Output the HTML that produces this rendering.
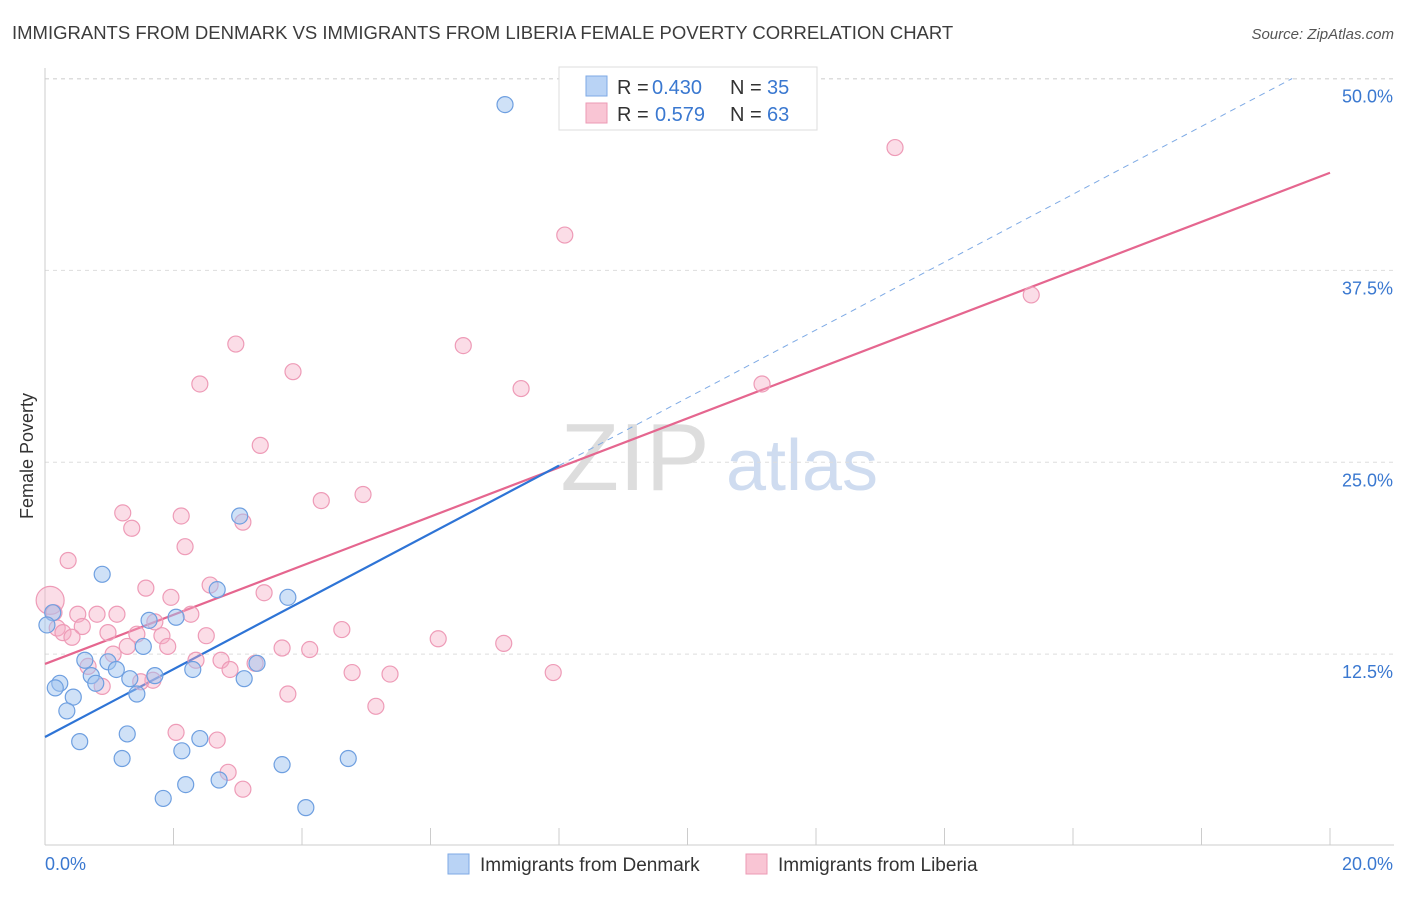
<!DOCTYPE html>
<html><head><meta charset="utf-8"><style>
body{margin:0;background:#fff;font-family:"Liberation Sans",sans-serif;}
svg text{font-family:"Liberation Sans",sans-serif;}
</style></head><body>
<svg id="chart" width="1406" height="892" xmlns="http://www.w3.org/2000/svg">
<text x="12" y="39" font-size="18.5" fill="#3c3c3c">IMMIGRANTS FROM DENMARK VS IMMIGRANTS FROM LIBERIA FEMALE POVERTY CORRELATION CHART</text>
<text x="1394" y="39" font-size="15" fill="#555" font-style="italic" text-anchor="end">Source: ZipAtlas.com</text>
<text transform="translate(33,456) rotate(-90)" font-size="18" fill="#333" text-anchor="middle">Female Poverty</text>
<g><text x="635" y="490" font-size="96" fill="#ddd" font-family="Liberation Serif" text-anchor="middle">ZIP</text><text x="802" y="490" font-size="72" fill="#cfdcf0" text-anchor="middle">atlas</text></g>
<g id="grid"></g><g id="axes"></g><g id="lines"></g><g id="points"></g>
<g>
<rect x="559" y="67" width="258" height="63" fill="#fff" stroke="#ddd"/>
<rect x="586" y="76" width="21" height="20" fill="#b9d3f5" stroke="#7eaae5"/>
<text x="617" y="94" font-size="20" fill="#333">R =</text>
<text x="652" y="94" font-size="20" fill="#3a78d0">0.430</text>
<text x="730" y="94" font-size="20" fill="#333">N =</text>
<text x="767" y="94" font-size="20" fill="#3a78d0">35</text>
<rect x="586" y="103" width="21" height="20" fill="#f9c5d4" stroke="#ec9ab5"/>
<text x="617" y="121" font-size="20" fill="#333">R =</text>
<text x="655" y="121" font-size="20" fill="#3a78d0">0.579</text>
<text x="730" y="121" font-size="20" fill="#333">N =</text>
<text x="767" y="121" font-size="20" fill="#3a78d0">63</text>
</g>
<g>
<rect x="448" y="854" width="21" height="20" fill="#b9d3f5" stroke="#7eaae5"/>
<text x="480" y="871" font-size="19" fill="#333">Immigrants from Denmark</text>
<rect x="746" y="854" width="21" height="20" fill="#f9c5d4" stroke="#ec9ab5"/>
<text x="778" y="871" font-size="19" fill="#333">Immigrants from Liberia</text>
</g>
</svg>
<script>
const yTicks=[12.5,25,37.5,50];
const yTickLabels=["12.5%","25.0%","37.5%","50.0%"];
const xTickCount=[0,2,4,6,8,10,12,14,16,18,20];
const denmarkX=[7.16,3.03,0.89,2.68,3.78,1.62,2.04,1.53,0.12,0.03,0.62,0.98,1.11,0.72,1.71,1.32,2.30,3.30,3.10,0.23,0.16,0.79,1.43,0.44,0.34,1.28,0.54,2.41,2.13,1.20,4.72,3.69,2.71,2.19,1.84,4.06];
const denmarkY=[48.3,21.5,17.7,16.7,16.2,14.7,14.9,13.0,15.2,14.4,12.1,12.0,11.5,11.1,11.1,10.9,11.5,11.9,10.9,10.6,10.3,10.6,9.9,9.7,8.8,7.3,6.8,7.0,6.2,5.7,5.7,5.3,4.3,4.0,3.1,2.5];
const liberiaX=[13.23,8.09,15.35,2.97,6.51,3.86,2.41,7.41,11.16,3.35,4.95,4.30,1.21,2.12,3.08,1.35,2.18,0.36,2.57,1.57,3.41,1.96,0.08,0.14,0.51,0.81,1.12,2.27,1.71,0.19,0.58,0.28,0.98,1.43,1.82,2.51,4.62,0.42,1.28,1.91,6.12,7.14,3.69,4.12,1.06,2.35,2.74,3.27,0.67,2.88,4.78,5.37,7.91,1.68,1.49,0.89,3.78,5.15,2.04,2.68,2.85,3.08];
const liberiaY=[45.5,39.8,35.9,32.7,32.6,30.9,30.1,29.8,30.1,26.1,22.9,22.5,21.7,21.5,21.1,20.7,19.5,18.6,17.0,16.8,16.5,16.2,16.0,15.2,15.1,15.1,15.1,15.1,14.6,14.2,14.3,13.9,13.9,13.8,13.7,13.7,14.1,13.6,13.0,13.0,13.5,13.2,12.9,12.8,12.5,12.1,12.1,11.9,11.7,11.5,11.3,11.2,11.3,10.8,10.7,10.4,9.9,9.1,7.4,6.9,4.8,3.7];
const denmarkFit=[7.1,2.21];
const liberiaFit=[11.86,1.6];
const sx=v=>45+v*64.25, sy=v=>846-v*15.35;
const NS="http://www.w3.org/2000/svg";
function mk(tag,attrs,parent){const e=document.createElementNS(NS,tag);for(const k in attrs)e.setAttribute(k,attrs[k]);parent.appendChild(e);return e;}
const gridG=document.getElementById('grid'),axesG=document.getElementById('axes'),linesG=document.getElementById('lines'),ptsG=document.getElementById('points');
yTicks.forEach((t,i)=>{
 const l=mk('line',{x1:45,x2:1394,y1:sy(t),y2:sy(t),stroke:'#ddd','stroke-dasharray':'4,4'},gridG);
 
 
 const tx=mk('text',{x:1393,y:sy(t)+24,'font-size':18,fill:'#3a78d0','text-anchor':'end'},axesG);
 tx.textContent=yTickLabels[i];
 
 
});
const topLine=mk('line',{x1:45,x2:1394,y1:79,y2:79,stroke:'#ddd','stroke-dasharray':'4,4'},gridG);


const xa=mk('line',{x1:45,x2:1394,y1:845,y2:845,stroke:'#ccc'},axesG);


const ya=mk('line',{x1:45,x2:45,y1:68,y2:845,stroke:'#ccc'},axesG);


xTickCount.forEach(t=>{const l=mk('line',{x1:sx(t),x2:sx(t),y1:828,y2:845,stroke:'#ccc'},axesG);
 
 });
const xl0=mk('text',{x:45,y:870,'font-size':18,fill:'#3a78d0'},axesG);xl0.textContent='0.0%';


const xl1=mk('text',{x:1393,y:870,'font-size':18,fill:'#3a78d0','text-anchor':'end'},axesG);xl1.textContent='20.0%';


const bxEnd=(50-denmarkFit[0])/denmarkFit[1];
const bd=mk('line',{x1:sx(8),y1:sy(denmarkFit[0]+denmarkFit[1]*8),x2:sx(bxEnd),y2:sy(50),stroke:'#7eaae5','stroke-dasharray':'6,5','stroke-width':1},linesG);


const pl=mk('line',{x1:sx(0),y1:sy(liberiaFit[0]),x2:sx(20),y2:sy(liberiaFit[0]+liberiaFit[1]*20),stroke:'#e5668f','stroke-width':2.2},linesG);


const bl=mk('line',{x1:sx(0),y1:sy(denmarkFit[0]),x2:sx(8),y2:sy(denmarkFit[0]+denmarkFit[1]*8),stroke:'#2e74d6','stroke-width':2.2},linesG);


liberiaX.forEach((x,i)=>{const c=mk('circle',{cx:sx(x),cy:sy(liberiaY[i]),r:i==22?14:8,fill:'rgba(245,170,195,0.4)',stroke:'#ee9bb7','stroke-width':1.2},ptsG);
 
 });
denmarkX.forEach((x,i)=>{const c=mk('circle',{cx:sx(x),cy:sy(denmarkY[i]),r:8,fill:'rgba(160,195,240,0.5)',stroke:'#6e9fe0','stroke-width':1.2},ptsG);
 
 });
</script>
</body></html>
